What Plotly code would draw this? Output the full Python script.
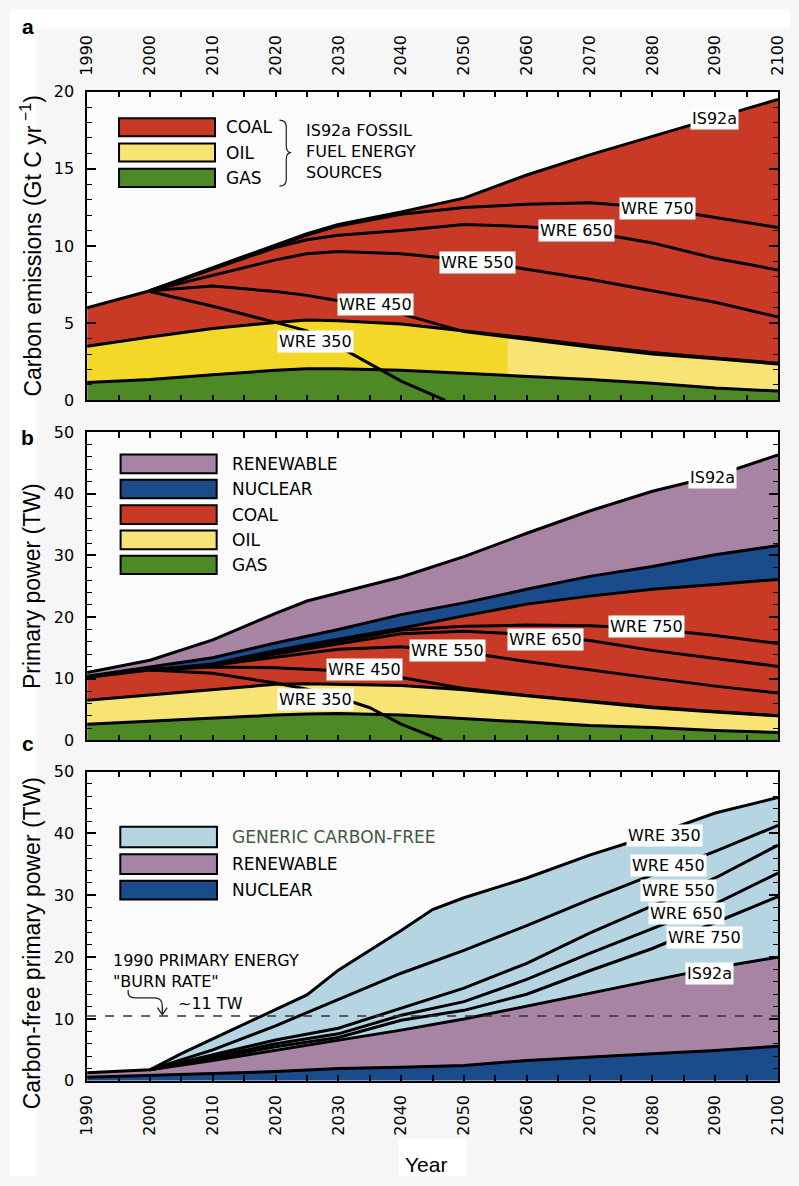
import numpy as np
import plotly.graph_objects as go

W, H = 799, 1186

# ---------------- data ----------------
year_ticks = [1990, 2000, 2010, 2020, 2030, 2040, 2050, 2060, 2070, 2080, 2090, 2100]

# Panel a : carbon emissions (Gt C / yr)
years_a = [1990, 2000, 2010, 2020, 2025, 2030, 2040, 2050, 2060, 2070, 2080, 2090, 2100]
a_is92a = [6.0, 7.1, 8.6, 10.1, 10.8, 11.4, 12.2, 13.1, 14.6, 15.9, 17.1, 18.3, 19.5]
a_oil_top = [3.5, 4.1, 4.65, 5.05, 5.2, 5.15, 4.95, 4.5, 4.05, 3.55, 3.1, 2.75, 2.4]
a_gas_top = [1.15, 1.35, 1.65, 1.95, 2.05, 2.05, 1.95, 1.75, 1.55, 1.35, 1.1, 0.8, 0.6]
years_wre_a = [2000, 2010, 2020, 2025, 2030, 2040, 2050, 2060, 2070, 2080, 2090, 2100]
a_wre750 = [7.1, 8.55, 10.0, 10.7, 11.3, 12.05, 12.5, 12.7, 12.8, 12.5, 11.85, 11.2]
a_wre650 = [7.1, 8.5, 9.9, 10.4, 10.7, 11.0, 11.4, 11.25, 10.9, 10.2, 9.2, 8.45]
a_wre550 = [7.1, 8.1, 9.1, 9.5, 9.65, 9.5, 9.1, 8.5, 7.85, 7.1, 6.35, 5.4]
a_wre450 = [7.1, 7.4, 7.05, 6.8, 6.45, 5.6, 4.45, 3.95, 3.45, 3.0, 2.7, 2.35]
years_wre350_a = [2000, 2010, 2020, 2025, 2030, 2040, 2047]
a_wre350 = [7.05, 6.1, 5.05, 4.5, 3.5, 1.25, 0.0]
oil_shade_split_year = 2057

# Panel b : primary power (TW)
years_b = [1990, 2000, 2010, 2020, 2025, 2030, 2040, 2050, 2060, 2070, 2080, 2090, 2100]
b_total = [11.0, 13.0, 16.3, 20.6, 22.6, 23.9, 26.5, 29.8, 33.6, 37.2, 40.4, 42.9, 46.3]
b_nuclear_top = [10.4, 11.9, 13.4, 15.8, 16.9, 18.0, 20.4, 22.3, 24.5, 26.6, 28.2, 30.1, 31.6]
b_coal_top = [10.2, 11.4, 12.4, 14.6, 15.5, 16.4, 18.2, 20.2, 22.1, 23.4, 24.5, 25.3, 26.1]
b_oil_top = [6.5, 7.4, 8.2, 9.1, 9.2, 9.1, 8.9, 8.2, 7.2, 6.2, 5.3, 4.6, 4.0]
b_gas_top = [2.6, 3.1, 3.7, 4.1, 4.3, 4.35, 4.1, 3.5, 2.9, 2.4, 2.1, 1.6, 1.3]
years_wre_b = [2000, 2010, 2020, 2025, 2030, 2040, 2050, 2060, 2070, 2080, 2090, 2100]
b_wre750 = [11.4, 12.3, 14.3, 15.2, 16.0, 17.9, 18.5, 18.7, 18.6, 18.1, 17.0, 15.7]
b_wre650 = [11.4, 12.2, 14.0, 14.8, 15.6, 17.3, 17.7, 17.2, 16.2, 14.6, 13.3, 12.0]
b_wre550 = [11.4, 12.2, 13.5, 14.2, 14.8, 15.2, 14.3, 12.8, 11.4, 10.1, 8.8, 7.7]
b_wre450 = [11.4, 11.9, 11.8, 11.6, 11.3, 10.2, 8.4, 7.3, 6.3, 5.4, 4.7, 4.0]
years_wre350_b = [2000, 2010, 2020, 2025, 2030, 2035, 2040, 2046.5]
b_wre350 = [11.4, 10.9, 9.3, 8.3, 7.0, 5.3, 2.65, 0.0]

# Panel c : carbon-free primary power (TW)
years_c = [1990, 2000, 2010, 2020, 2030, 2040, 2050, 2060, 2070, 2080, 2090, 2100]
c_nuclear = [0.6, 0.95, 1.2, 1.5, 2.0, 2.2, 2.5, 3.3, 3.9, 4.4, 4.9, 5.6]
c_is92a = [1.3, 1.8, 3.3, 4.9, 6.5, 8.2, 10.0, 12.1, 14.2, 16.2, 18.3, 20.0]
years_wre350_c = [2000, 2005, 2010, 2015, 2020, 2025, 2030, 2035, 2040, 2045, 2050, 2060, 2070, 2080, 2090, 2100]
c_wre350 = [1.8, 4.4, 6.8, 9.2, 11.6, 13.9, 17.9, 21.1, 24.3, 27.7, 29.6, 32.8, 36.5, 39.7, 43.3, 45.8]
years_wre_c = [2000, 2010, 2020, 2030, 2040, 2050, 2060, 2070, 2080, 2090, 2100]
c_wre450 = [1.8, 5.0, 8.9, 13.2, 17.4, 21.1, 25.1, 29.3, 33.3, 37.1, 41.3]
c_wre550 = [1.8, 4.2, 6.6, 8.5, 11.8, 15.0, 19.0, 23.9, 28.3, 32.8, 38.1]
c_wre650 = [1.8, 3.8, 6.0, 7.6, 10.6, 12.8, 16.4, 20.6, 24.6, 28.6, 33.6]
c_wre750 = [1.8, 3.6, 5.5, 7.0, 9.8, 11.4, 14.0, 17.8, 21.4, 25.6, 29.8]
burn_rate_1990 = 10.5

# curve labels: (text, year, value)
labels_a = [("IS92a", 2089.9, 18.25), ("WRE 750", 2080.8, 12.46), ("WRE 650", 2067.9, 11.0),
            ("WRE 550", 2052.2, 8.93), ("WRE 450", 2035.9, 6.18), ("WRE 350", 2026.4, 3.79)]
labels_b = [("IS92a", 2089.6, 42.7), ("WRE 750", 2079.0, 18.5), ("WRE 650", 2063.0, 16.3),
            ("WRE 550", 2047.4, 14.5), ("WRE 450", 2034.1, 11.5), ("WRE 350", 2026.3, 6.6)]
labels_c = [("WRE 350", 2081.9, 39.6), ("WRE 450", 2082.6, 34.8), ("WRE 550", 2084.2, 30.8),
            ("WRE 650", 2085.5, 27.0), ("WRE 750", 2088.3, 23.2), ("IS92a", 2089.1, 17.4)]

# ---------------- styles ----------------
RED = "#c93a26"
YEL_BRIGHT = "#f4d829"
YEL = "#f7e475"
GREEN = "#4d8a25"
PURPLE = "#a783a4"
BLUE = "#1a4b8b"
LBLUE = "#b5d5e2"
LINEW = 3.0
LBL_FONT = dict(family="DejaVu Sans", size=16, color="black")

X0, X1 = 79, 786.7
dom_x = [X0 / W, X1 / W]
dom_a = [1 - 397.7 / H, 1 - 84 / H]
dom_b = [1 - 743.3 / H, 1 - 430 / H]
dom_c = [1 - 1089.3 / H, 1 - 775 / H]


def px(x):
    return x / W


def py(y):
    return 1 - y / H


fig = go.Figure()


def poly(xt, yt, xb, yb, color, ax):
    xs = list(xt) + list(xb)[::-1]
    ys = list(yt) + list(yb)[::-1]
    fig.add_trace(go.Scatter(x=xs, y=ys, fill="toself", fillcolor=color, mode="lines",
                             line=dict(width=0), hoverinfo="skip", showlegend=False,
                             xaxis=ax[0], yaxis=ax[1]))


def line(x, y, ax, width=LINEW):
    fig.add_trace(go.Scatter(x=x, y=y, mode="lines", line=dict(color="black", width=width),
                             hoverinfo="skip", showlegend=False, xaxis=ax[0], yaxis=ax[1]))


zeros_a = [0] * len(years_a)
zeros_b = [0] * len(years_b)
zeros_c = [0] * len(years_c)

# ---- panel a ----
A = ("x", "y")
poly(years_a, a_gas_top, years_a, zeros_a, GREEN, A)
left = [yv for yv in years_a if yv < oil_shade_split_year] + [oil_shade_split_year]
right = [oil_shade_split_year] + [yv for yv in years_a if yv > oil_shade_split_year]
poly(left, np.interp(left, years_a, a_oil_top), left, np.interp(left, years_a, a_gas_top), YEL_BRIGHT, A)
poly(right, np.interp(right, years_a, a_oil_top), right, np.interp(right, years_a, a_gas_top), YEL, A)
poly(years_a, a_is92a, years_a, a_oil_top, RED, A)
line(years_a, a_gas_top, A)
line(years_a, a_oil_top, A)
for s in (a_wre750, a_wre650, a_wre550, a_wre450):
    line(years_wre_a, s, A)
line(years_wre350_a, a_wre350, A)
line(years_a, a_is92a, A)

# ---- panel b ----
B = ("x2", "y2")
poly(years_b, b_gas_top, years_b, zeros_b, GREEN, B)
poly(years_b, b_oil_top, years_b, b_gas_top, YEL, B)
poly(years_b, b_coal_top, years_b, b_oil_top, RED, B)
poly(years_b, b_nuclear_top, years_b, b_coal_top, BLUE, B)
poly(years_b, b_total, years_b, b_nuclear_top, PURPLE, B)
for s in (b_gas_top, b_oil_top, b_coal_top, b_nuclear_top):
    line(years_b, s, B)
for s in (b_wre750, b_wre650, b_wre550, b_wre450):
    line(years_wre_b, s, B)
line(years_wre350_b, b_wre350, B)
line(years_b, b_total, B)

# ---- panel c ----
C = ("x3", "y3")
poly(years_c, c_nuclear, years_c, zeros_c, BLUE, C)
poly(years_c, c_is92a, years_c, c_nuclear, PURPLE, C)
poly(years_wre350_c, c_wre350, years_c[1:], c_is92a[1:], LBLUE, C)
line(years_c, c_nuclear, C)
for s in (c_wre750, c_wre650, c_wre550, c_wre450):
    line(years_wre_c, s, C)
line(years_wre350_c, c_wre350, C)
line(years_c, c_is92a, C)

# ---------------- axes ----------------
tickfont = dict(family="DejaVu Sans", size=16, color="black")


def xaxis(domain, anchor, labels, side="bottom", standoff=5):
    return dict(domain=domain, anchor=anchor, range=[1990, 2100], side=side,
                showline=True, linecolor="black", linewidth=1.5, mirror="allticks",
                ticks="inside", ticklen=6, tickwidth=1.5, tickcolor="black",
                tickmode="array", tickvals=year_ticks, ticktext=[str(t) for t in year_ticks],
                showticklabels=labels, tickangle=-90, tickfont=tickfont, ticklabelstandoff=standoff,
                minor=dict(ticks="inside", dtick=5, tick0=1990, ticklen=6, tickwidth=1.5, tickcolor="black"),
                showgrid=False, zeroline=False, fixedrange=True)


def yaxis(domain, anchor, top, major, minor):
    return dict(domain=domain, anchor=anchor, range=[0, top],
                showline=True, linecolor="black", linewidth=1.5, mirror="allticks",
                ticks="inside", ticklen=9, tickwidth=1.5, tickcolor="black", dtick=major, tick0=0,
                tickfont=tickfont, ticklabelstandoff=8,
                minor=dict(ticks="inside", dtick=minor, ticklen=5, tickwidth=1.2, tickcolor="black"),
                showgrid=False, zeroline=False, fixedrange=True)


fig.update_layout(
    width=W, height=H, margin=dict(l=0, r=0, t=0, b=0),
    paper_bgcolor="#f6f6f6", plot_bgcolor="#fbfbfb",
    xaxis=xaxis(dom_x, "y", True, side="top", standoff=11),
    yaxis=yaxis(dom_a, "x", 20, 5, 1),
    xaxis2=xaxis(dom_x, "y2", False),
    yaxis2=yaxis(dom_b, "x2", 50, 10, 2),
    xaxis3=xaxis(dom_x, "y3", True, standoff=6),
    yaxis3=yaxis(dom_c, "x3", 50, 10, 2),
)

shapes = []
annotations = []

# white strips around the grey panel
shapes.append(dict(type="rect", xref="paper", yref="paper", x0=0, x1=1, y0=py(20), y1=1,
                   fillcolor="white", line=dict(width=0), layer="below"))
shapes.append(dict(type="rect", xref="paper", yref="paper", x0=0, x1=px(27), y0=0, y1=1,
                   fillcolor="white", line=dict(width=0), layer="below"))
shapes.append(dict(type="rect", xref="paper", yref="paper", x0=px(398), x1=px(468), y0=0, y1=py(1148),
                   fillcolor="white", line=dict(width=0), layer="below"))

# curve labels
for lbls, xr, yr in ((labels_a, "x", "y"), (labels_b, "x2", "y2"), (labels_c, "x3", "y3")):
    for txt, xv, yv in lbls:
        annotations.append(dict(text=txt, x=xv, y=yv, xref=xr, yref=yr, showarrow=False,
                                font=LBL_FONT, bgcolor="white", borderpad=1,
                                xanchor="center", yanchor="middle"))


# legends
def legend(items, x0, x1, tx):
    for color, y0, y1, txt, tcol in items:
        shapes.append(dict(type="rect", xref="paper", yref="paper", x0=px(x0), x1=px(x1),
                           y0=py(y1), y1=py(y0), fillcolor=color, line=dict(color="black", width=2)))
        annotations.append(dict(text=txt, x=px(tx), y=py((y0 + y1) / 2), xref="paper", yref="paper",
                                showarrow=False, xanchor="left", yanchor="middle",
                                font=dict(family="DejaVu Sans", size=17, color=tcol)))


legend([(RED, 111, 129.3, "COAL", "black"), (YEL, 136.7, 155, "OIL", "black"),
        (GREEN, 162.3, 181, "GAS", "black")], 111.7, 210, 219)
legend([(PURPLE, 452.7, 471.7, "RENEWABLE", "black"), (BLUE, 478.3, 497.3, "NUCLEAR", "black"),
        (RED, 504.3, 523.3, "COAL", "black"), (YEL, 530, 549, "OIL", "black"),
        (GREEN, 555.7, 574.3, "GAS", "black")], 113.3, 211.7, 225)
legend([(LBLUE, 831, 852, "GENERIC CARBON-FREE", "#3f5c40"), (PURPLE, 859, 879, "RENEWABLE", "black"),
        (BLUE, 886, 905, "NUCLEAR", "black")], 113, 212, 225)


def path(points_cmds):
    out = []
    for item in points_cmds:
        if isinstance(item, str):
            out.append(item)
        else:
            out.append("%.5f,%.5f" % (px(item[0]), py(item[1])))
    return " ".join(out)


# brace for IS92a fossil sources
shapes.append(dict(type="path", xref="paper", yref="paper",
                   path=path(["M", (276, 113), "Q", (283, 113), (283, 120), "L", (283, 139),
                              "Q", (283, 146), (288, 146), "Q", (283, 146), (283, 153),
                              "L", (283, 173), "Q", (283, 180), (276, 180)]),
                   line=dict(color="#222", width=1.2)))
annotations.append(dict(text="IS92a FOSSIL<br>FUEL ENERGY<br>SOURCES", x=px(301), y=py(145),
                        xref="paper", yref="paper", showarrow=False, xanchor="left", yanchor="middle",
                        align="left", font=dict(family="DejaVu Sans", size=16, color="black")))

# burn-rate dashed line
shapes.append(dict(type="line", xref="x3", yref="y3", x0=1990, x1=2100, y0=burn_rate_1990,
                   y1=burn_rate_1990, line=dict(color="#333", width=1.5, dash="dash")))
annotations.append(dict(text="1990 PRIMARY ENERGY<br>\"BURN RATE\"", x=px(103), y=py(978),
                        xref="paper", yref="paper", showarrow=False, xanchor="left", yanchor="middle",
                        align="left", font=dict(family="DejaVu Sans", size=16, color="black")))
annotations.append(dict(text="~11 TW", x=px(170), y=py(1011), xref="paper", yref="paper",
                        showarrow=False, xanchor="left", yanchor="middle",
                        font=dict(family="DejaVu Sans", size=16, color="black")))
shapes.append(dict(type="path", xref="paper", yref="paper",
                   path=path(["M", (121, 997), "Q", (120, 1005), (128, 1005), "L", (148, 1005),
                              "Q", (156, 1005), (156, 1013), "L", (156, 1022)]),
                   line=dict(color="#222", width=1.3)))
shapes.append(dict(type="path", xref="paper", yref="paper",
                   path=path(["M", (151, 1015), "L", (156, 1022), "L", (161, 1015)]),
                   line=dict(color="#222", width=1.3)))

# axis titles
title_font = dict(family="Liberation Sans", size=23, color="black")
annotations.append(dict(text="Carbon emissions (Gt C yr<sup> −1</sup>)", x=px(22), y=py(241),
                        xref="paper", yref="paper", textangle=-90, showarrow=False,
                        xanchor="center", yanchor="middle", font=title_font))
annotations.append(dict(text="Primary power (TW)", x=px(22), y=py(586), xref="paper", yref="paper",
                        textangle=-90, showarrow=False, xanchor="center", yanchor="middle", font=title_font))
annotations.append(dict(text="Carbon-free primary power (TW)", x=px(22), y=py(949), xref="paper",
                        yref="paper", textangle=-90, showarrow=False, xanchor="center",
                        yanchor="middle", font=title_font))
annotations.append(dict(text="Year", x=px(426), y=py(1174), xref="paper", yref="paper", showarrow=False,
                        xanchor="center", yanchor="middle",
                        font=dict(family="Liberation Sans", size=21, color="black")))

# panel letters
for letter, lx, ly in (("a", 18, 18), ("b", 18, 435), ("c", 18, 746)):
    annotations.append(dict(text="<b>%s</b>" % letter, x=px(lx), y=py(ly), xref="paper", yref="paper",
                            showarrow=False, xanchor="center", yanchor="middle",
                            font=dict(family="Liberation Sans", size=21, color="black")))

fig.update_layout(shapes=shapes, annotations=annotations)

fig.write_html("out.html", config={"displayModeBar": False},
               post_script="document.body.style.margin='0';")
